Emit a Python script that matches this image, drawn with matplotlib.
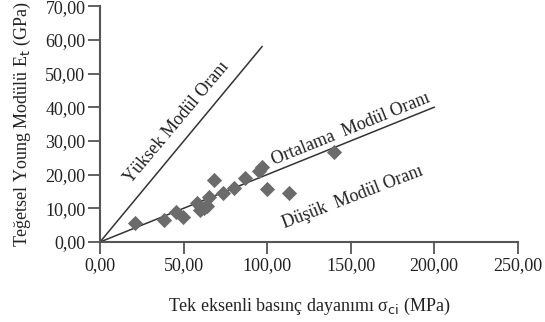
import matplotlib.pyplot as plt
from matplotlib.ticker import FuncFormatter

plt.rcParams['font.family'] = ['Liberation Serif', 'DejaVu Serif']

# uniaxial compressive strength (MPa) vs tangent Young's modulus (GPa)
sigma_ci = [21, 38, 45.5, 49.5, 58, 60, 62, 64, 65.5, 68, 73.5, 80, 87, 95, 97, 100, 113, 140]
E_t = [5.6, 6.5, 8.8, 7.5, 11.5, 9.6, 10.2, 10.8, 13.5, 18.5, 14.5, 16, 19, 21, 22.3, 15.8, 14.6, 26.8]

# modulus ratio boundary lines, drawn from the origin
high_x = [0, 97]
high_y = [0, 58]
avg_x = [0, 200]
avg_y = [0, 40]

xticks = [0, 50, 100, 150, 200, 250]
yticks = [0, 10, 20, 30, 40, 50, 60, 70]

fig = plt.figure(figsize=(5.45, 3.22), dpi=100)
ax = fig.add_axes([0.1835, 0.2484, 0.7665, 0.7326])

ax.plot(high_x, high_y, color='#333333', lw=1.1)
ax.plot(avg_x, avg_y, color='#333333', lw=1.1)
ax.scatter(sigma_ci, E_t, marker='D', s=60, color='#6b6b6b', zorder=3, linewidths=0)

ax.text(46, 35.5, 'Yüksek Modül Oranı', rotation=50, fontsize=13,
        ha='center', va='center', color='#222222')
ax.text(150, 33.5, 'Ortalama  Modül Oranı', rotation=22, fontsize=13,
        ha='center', va='center', color='#222222')
ax.text(151, 13.2, 'Düşük  Modül Oranı', rotation=21, fontsize=13,
        ha='center', va='center', color='#222222')

ax.set_xlim(0, 250)
ax.set_ylim(0, 70)
ax.set_xticks(xticks)
ax.set_yticks(yticks)
fmt = FuncFormatter(lambda v, p: f'{v:.2f}'.replace('.', ','))
ax.xaxis.set_major_formatter(fmt)
ax.yaxis.set_major_formatter(fmt)

for s in ['top', 'right']:
    ax.spines[s].set_visible(False)
for s in ['left', 'bottom']:
    ax.spines[s].set_color('#555555')
    ax.spines[s].set_linewidth(1.5)
ax.tick_params(direction='out', length=8.5, width=1.3, color='#555555',
               labelsize=13, labelcolor='#222222', pad=2)

ax.set_xlabel('Tek eksenli basınç dayanımı σ$_{\\mathrm{ci}}$ (MPa)', fontsize=13,
              color='#222222', labelpad=16)
ax.set_ylabel('Teğetsel Young Modülü E$_{\\mathrm{t}}$ (GPa)', fontsize=13,
              color='#222222', labelpad=9)

fig.savefig('out.png', dpi=100)
